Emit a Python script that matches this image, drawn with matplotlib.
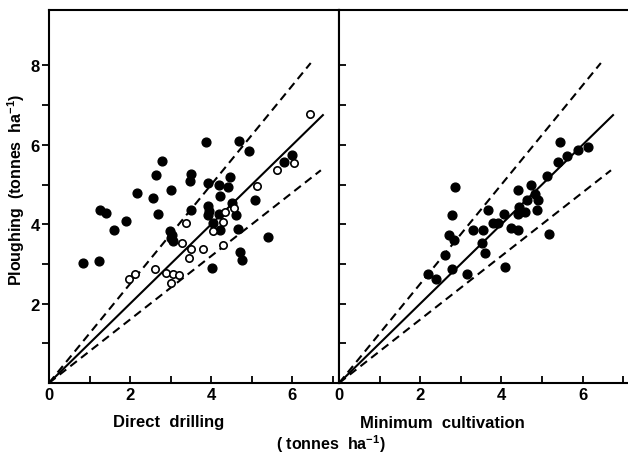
import matplotlib
matplotlib.use("Agg")
import matplotlib.pyplot as plt

# Fonts: bold Helvetica-like look
plt.rcParams["font.family"] = ["Liberation Sans", "DejaVu Sans"]
plt.rcParams["font.weight"] = "bold"
plt.rcParams["axes.labelweight"] = "bold"
plt.rcParams["mathtext.fontset"] = "custom"
plt.rcParams["mathtext.rm"] = "Liberation Sans:bold"
plt.rcParams["mathtext.default"] = "rm"

# Direct drilling vs ploughing (tonnes/ha)
dd_filled_x = [0.83, 1.24, 1.26, 1.40, 1.61, 1.91, 2.18, 2.57, 2.68, 2.64, 2.78, 3.00,
               2.98, 3.02, 3.00, 3.06, 3.49, 3.47, 3.49, 3.88, 3.92, 3.92, 3.95, 3.92,
               4.19, 4.21, 4.05, 4.21, 4.01, 4.42, 4.46, 4.19, 4.52, 4.61, 4.66, 4.70,
               4.75, 4.68, 4.93, 5.07, 5.40, 5.80, 5.99]
dd_filled_y = [3.02, 3.07, 4.35, 4.29, 3.85, 4.07, 4.79, 4.65, 4.25, 5.24, 5.60, 4.87,
               3.84, 3.74, 3.66, 3.58, 5.27, 5.10, 4.35, 6.07, 5.03, 4.45, 4.33, 4.22,
               5.00, 4.71, 4.04, 3.85, 2.89, 4.94, 5.20, 4.27, 4.54, 4.23, 3.88, 3.30,
               3.10, 6.09, 5.85, 4.61, 3.69, 5.56, 5.74]
dd_open_x = [1.97, 2.12, 2.61, 2.88, 3.05, 3.21, 3.00, 3.27, 3.37, 3.50, 3.45, 3.80,
             4.05, 4.28, 4.29, 4.33, 4.56, 5.13, 5.62, 6.03, 6.44]
dd_open_y = [2.63, 2.74, 2.86, 2.76, 2.74, 2.71, 2.53, 3.52, 4.04, 3.37, 3.14, 3.37,
             3.83, 4.06, 3.47, 4.31, 4.41, 4.97, 5.36, 5.54, 6.78]

# Minimum cultivation vs ploughing
mc_x = [2.86, 5.44, 5.39, 5.61, 5.88, 6.14, 5.12, 4.40, 4.73, 4.83, 4.89, 4.62, 4.44,
        4.58, 4.87, 4.40, 4.07, 3.66, 2.78, 3.78, 3.92, 3.31, 3.54, 4.24, 4.42, 2.72,
        2.84, 3.53, 5.18, 3.60, 2.61, 2.79, 2.18, 2.38, 3.16, 4.09]
mc_y = [4.93, 6.07, 5.57, 5.73, 5.88, 5.95, 5.21, 4.87, 4.99, 4.75, 4.60, 4.62, 4.44,
        4.30, 4.35, 4.25, 4.27, 4.35, 4.23, 4.04, 4.04, 3.85, 3.85, 3.91, 3.85, 3.74,
        3.59, 3.53, 3.76, 3.28, 3.22, 2.86, 2.75, 2.61, 2.75, 2.91]

# Reference lines through the origin: slope and end of line
line_slopes = [1.0, 1.25, 0.8]
line_ends = [6.75, 6.45, 6.7]
line_dashed = [False, True, True]

fig = plt.figure(figsize=(6.28, 4.56), dpi=100)
ax1 = fig.add_axes([0.078, 0.158, 0.462, 0.818])
ax2 = fig.add_axes([0.540, 0.158, 0.462, 0.818])

for ax in (ax1, ax2):
    for k, xe, dashed in zip(line_slopes, line_ends, line_dashed):
        if dashed:
            ax.plot([0, xe], [0, k * xe], color="black", lw=1.5,
                    dashes=(4, 2.5), zorder=2)
        else:
            ax.plot([0, xe], [0, k * xe], color="black", lw=1.5, zorder=2)
    ax.set_xlim(0, 7.15)
    ax.set_ylim(0, 9.4)
    ax.set_xticks([0, 2, 4, 6])
    ax.set_xticks([1, 3, 5, 7], minor=True)
    ax.set_yticks([2, 4, 6, 8])
    ax.set_yticks([1, 3, 5, 7], minor=True)
    for s in ax.spines.values():
        s.set_linewidth(1.5)
    ax.tick_params(axis="x", which="both", direction="in", length=5, width=1.3,
                   labelsize=12, pad=3)
    ax.tick_params(axis="y", which="both", length=5, width=1.3, labelsize=12,
                   pad=1.5)
    for lab in ax.get_xticklabels() + ax.get_yticklabels():
        lab.set_fontweight("bold")

ax1.scatter(dd_filled_x, dd_filled_y, s=40, color="black", zorder=3)
ax1.scatter(dd_open_x, dd_open_y, s=28, facecolors="white", edgecolors="black",
            linewidths=1.2, zorder=3)
ax2.scatter(mc_x, mc_y, s=40, color="black", zorder=3)

ax1.tick_params(axis="y", which="both", direction="out")
ax2.tick_params(axis="y", which="both", direction="in", labelleft=False)
# the right panel runs off the page edge in the original
ax2.spines["right"].set_visible(False)

fig.text(0.026, 0.583, "Ploughing  (tonnes  ha$^{-1}$)", rotation=90,
         ha="center", va="center", fontsize=11.5, fontweight="bold")
fig.text(169 / 628, 1 - 423 / 456, "Direct  drilling", ha="center", va="center",
         fontsize=12, fontweight="bold")
fig.text(442 / 628, 1 - 423 / 456, "Minimum  cultivation", ha="center", va="center",
         fontsize=12, fontweight="bold")
fig.text(331 / 628, 1 - 444 / 456, "( tonnes  ha$^{-1}$)", ha="center", va="center",
         fontsize=11.5, fontweight="bold")

plt.savefig("out.png", dpi=100)
